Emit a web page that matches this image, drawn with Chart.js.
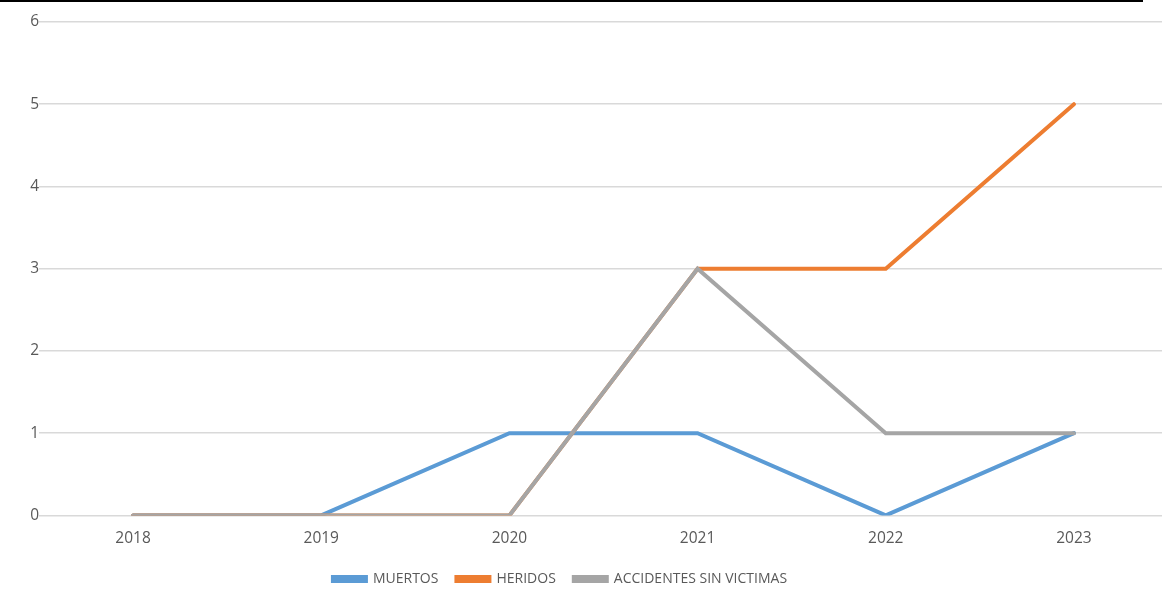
<!DOCTYPE html>
<html>
<head>
<meta charset="utf-8">
<script src="https://cdn.jsdelivr.net/npm/chart.js@4/dist/chart.umd.min.js"></script>
<style>
  html, body { margin: 0; padding: 0; background: #fff; overflow: hidden; }
  #wrap { position: relative; width: 1168px; height: 603px; }
  #topRule { position: absolute; left: 0; top: 0; width: 1143px; height: 2px; background: #000; }
</style>
</head>
<body>
<div id="wrap">
  <canvas id="trendChart" width="1168" height="603"></canvas>
  <div id="topRule"></div>
</div>
<script>
// years on the x axis
const years = ["2018", "2019", "2020", "2021", "2022", "2023"];

// series
const muertos = [0, 0, 1, 1, 0, 1];
const heridos = [0, 0, 0, 3, 3, 5];
const sinVictimas = [0, 0, 0, 3, 1, 1];

const tickColor = "#595959";
const fontFam = "'Open Sans', 'Liberation Sans', sans-serif";

function lineSet(label, data, color, order) {
  return {
    label: label,
    data: data,
    order: order,
    borderColor: color,
    backgroundColor: color,
    borderWidth: 4,
    borderCapStyle: "round",
    borderJoinStyle: "miter",
    pointRadius: 0,
    tension: 0
  };
}

// legend in the original sits a bit left of the chart centre
const legendShift = {
  id: "legendShift",
  afterLayout(chart) {
    chart.legend.left -= 24;
    chart.legend.right -= 24;
  }
};

const ctx = document.getElementById("trendChart");
new Chart(ctx, {
  type: "line",
  data: {
    labels: years,
    datasets: [
      lineSet("MUERTOS", muertos, "#5B9BD5", 2),
      lineSet("HERIDOS", heridos, "#ED7D31", 1),
      lineSet("ACCIDENTES SIN VICTIMAS", sinVictimas, "#A5A5A5", 0)
    ]
  },
  plugins: [legendShift],
  options: {
    responsive: false,
    animation: false,
    layout: { padding: { top: 22, right: 0, bottom: 7, left: 0 } },
    scales: {
      x: {
        offset: true,
        grid: { display: false },
        border: { display: false },
        ticks: { color: tickColor, font: { family: fontFam, size: 15.5 }, padding: 6 }
      },
      y: {
        min: 0,
        max: 6,
        grid: { color: "#d9d9d9", lineWidth: 1.5, drawTicks: false },
        border: { display: false },
        ticks: {
          stepSize: 1,
          color: tickColor,
          font: { family: fontFam, size: 15.5 },
          padding: 0,
          align: "center",
          crossAlign: "center"
        },
        afterFit: (axis) => { axis.width = 39; }
      }
    },
    plugins: {
      legend: {
        position: "bottom",
        labels: {
          boxWidth: 33,
          boxHeight: 4,
          padding: 18,
          color: tickColor,
          font: { family: fontFam, size: 14 },
          sort: (a, b) => a.datasetIndex - b.datasetIndex
        }
      },
      tooltip: { enabled: false }
    }
  }
});
</script>
</body>
</html>
